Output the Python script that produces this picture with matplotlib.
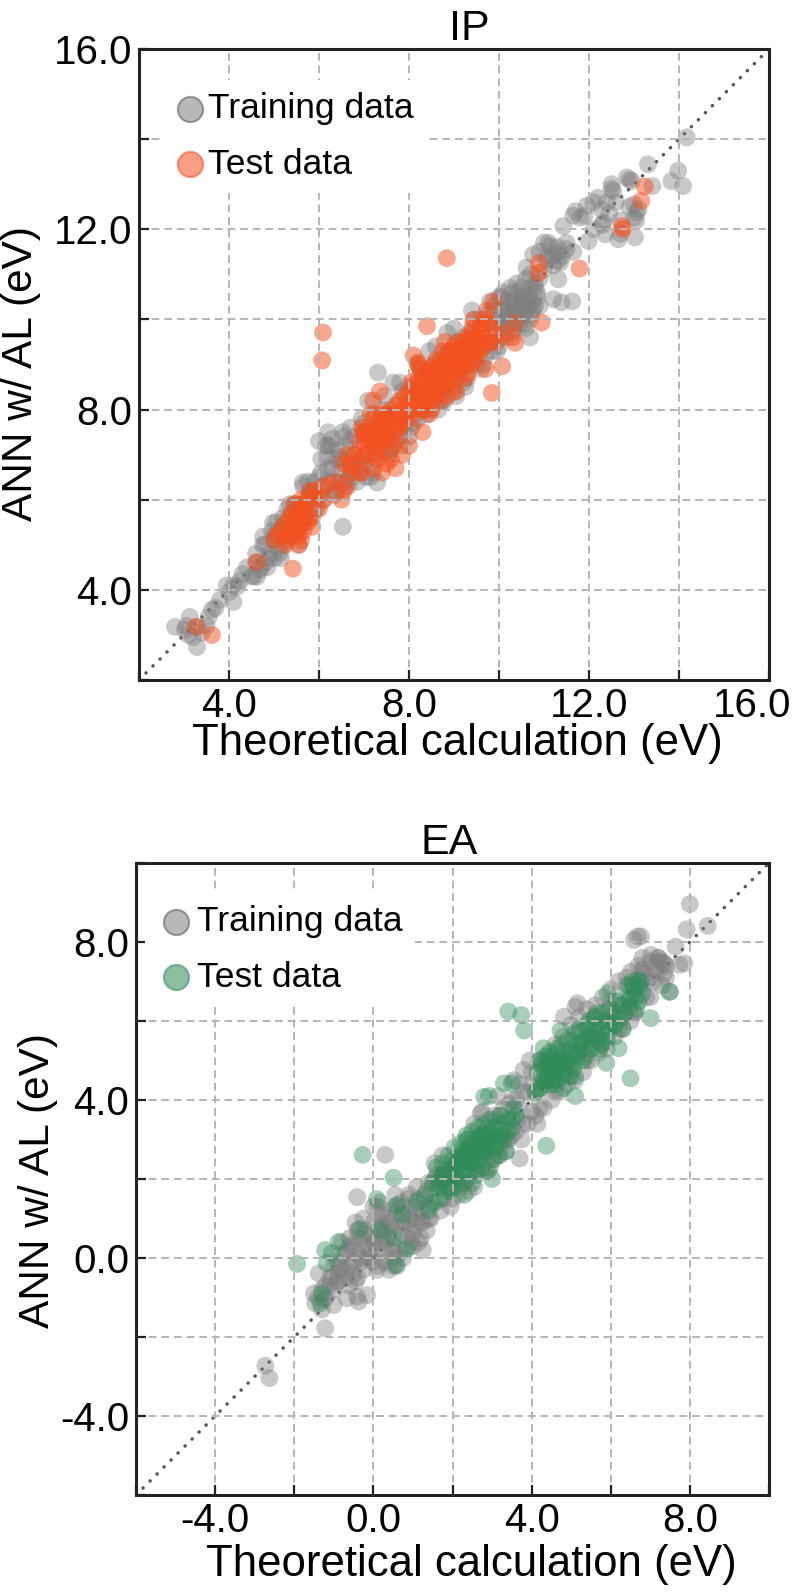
import matplotlib
matplotlib.use('Agg')
import matplotlib.pyplot as plt
from matplotlib.transforms import ScaledTranslation

plt.rcParams['font.family'] = ['Liberation Sans', 'DejaVu Sans']

# IP panel, values
ip_train_x = [2.8, 3.13, 3.02, 3.29, 3.29, 3.1, 3.2, 3.05, 3.4, 3.5, 3.62, 3.55, 3.7, 3.8, 4.1, 4.18, 4.0, 4.1, 3.95, 4.25,
              4.4, 4.3, 4.5, 4.62, 4.6, 4.7, 4.76, 4.8, 4.9, 5.0, 5.13, 4.98, 5.0, 5.1, 5.2, 5.2, 5.3, 5.35, 5.4, 5.5,
              5.6, 5.64, 5.7, 5.8, 5.85, 5.9, 6.0, 6.05, 6.18, 6.2, 6.2, 6.3, 6.35, 6.4, 6.45, 6.53, 6.53, 6.6, 6.7, 6.75,
              6.8, 6.9, 7.0, 7.09, 7.1, 7.2, 7.29, 7.31, 7.3, 7.4, 7.5, 7.55, 7.6, 7.7, 7.8, 7.85, 7.9, 8.0, 8.1, 8.15,
              8.2, 8.3, 8.35, 8.4, 8.5, 8.55, 8.6, 8.7, 8.75, 8.8, 8.9, 9.0, 9.05, 9.1, 9.2, 9.3, 9.35, 9.4, 9.5, 9.6,
              9.7, 9.75, 9.8, 9.9, 9.95, 10.0, 10.05, 10.1, 10.15, 10.2, 10.25, 10.3, 10.35, 10.4, 10.45, 10.5, 10.55, 10.6, 10.65, 10.7,
              10.75, 10.8, 10.85, 10.9, 10.5, 10.2, 10.7, 10.0, 10.3, 10.6, 10.69, 11.21, 11.39, 11.63, 10.61, 10.76, 11.13, 11.28, 11.5, 11.36,
              11.32, 11.06, 11.65, 11.43, 11.65, 11.8, 11.95, 11.99, 12.2, 12.28, 12.32, 12.36, 12.6, 12.65, 13.02, 13.06, 13.0, 12.5, 12.54, 12.84,
              12.95, 13.41, 13.31, 13.98, 13.83, 14.09, 14.17, 12.1, 11.2, 11.0, 12.9, 12.45,
              4.7, 4.8, 4.9, 5.0, 5.1, 5.2, 5.3, 5.4, 5.5, 5.6, 5.7, 5.8, 5.9, 6.0, 6.1, 6.2, 6.3, 6.4, 6.5, 6.6, 6.7, 6.8, 6.9, 7.0,
              4.6, 4.85, 5.05, 5.25, 5.45, 5.65, 5.85, 6.05, 6.25, 6.45, 6.65, 6.85, 7.05, 7.25, 7.45, 7.65, 7.85, 8.05, 8.25, 8.45, 8.65, 8.85, 9.05, 9.25, 9.45, 9.65, 9.85, 10.05,
              9.9, 10.0, 10.1, 10.2, 10.3, 10.4, 10.5, 10.6, 10.7, 10.8, 10.9, 10.05, 10.15, 10.25, 10.35, 10.45, 10.55, 10.65, 10.75, 10.85, 10.1, 10.3, 10.5, 10.7, 10.2, 10.4, 10.6, 10.8, 10.35, 10.55,
              7.0, 7.4, 7.8, 8.2, 8.6, 9.0, 9.4, 9.8, 7.2, 7.6, 8.0, 8.4, 8.8, 9.2, 9.6, 10.0,
              4.55, 4.75, 4.95, 5.15, 5.35, 5.55, 5.75, 5.95, 6.15, 6.35, 6.55, 6.75, 6.95, 7.15, 7.35, 7.55,
              6.0, 6.2, 6.4, 6.6, 6.8, 7.0, 6.3, 6.5, 6.7, 11.1, 11.2, 11.3, 11.4, 11.5,
              11.7, 11.9, 12.1, 12.3, 12.5, 12.7, 12.9, 13.05, 12.7, 12.4, 11.1, 11.3, 13.0, 13.1, 10.9, 11.0]
ip_train_y = [3.18, 3.4, 3.11, 2.73, 3.18, 3.0, 2.95, 3.2, 3.05, 3.2, 3.56, 3.4, 3.6, 3.78, 3.73, 4.07, 3.95, 4.1, 4.1, 4.2,
              4.5, 4.35, 4.3, 4.29, 4.6, 4.45, 5.18, 4.6, 4.8, 4.7, 4.82, 5.49, 5.1, 5.3, 5.0, 5.6, 5.8, 5.2, 5.5, 5.9,
              5.4, 6.38, 5.9, 6.2, 5.6, 6.4, 6.1, 6.6, 6.96, 6.4, 7.5, 6.7, 6.1, 7.1, 6.6, 7.5, 5.4, 6.9, 7.3, 6.5,
              7.0, 6.7, 7.4, 8.2, 7.0, 6.6, 6.38, 8.82, 7.6, 7.0, 7.9, 7.1, 7.3, 8.1, 7.4, 8.4, 7.6, 8.5, 7.7, 8.3,
              7.8, 8.7, 8.0, 8.9, 8.1, 9.0, 8.3, 9.1, 8.2, 8.5, 9.3, 8.4, 9.5, 8.8, 9.6, 8.7, 9.7, 9.1, 9.0, 10.0,
              9.2, 10.1, 9.5, 10.3, 9.3, 10.5, 9.8, 10.6, 9.6, 10.0, 10.7, 9.7, 10.3, 10.8, 9.9, 10.5, 10.1, 10.9, 10.3, 11.0,
              10.4, 10.7, 10.6, 10.3, 10.29, 10.2, 10.0, 10.0, 10.4, 9.8, 9.6, 10.45, 10.38, 10.4, 11.15, 11.44, 11.63, 11.48, 11.56, 11.26,
              10.89, 11.33, 11.5, 12.07, 12.3, 12.26, 12.52, 11.74, 12.7, 12.44, 12.15, 11.89, 12.6, 11.78, 11.82, 12.37, 12.25, 13.0, 12.85, 13.15,
              13.07, 12.96, 13.44, 13.3, 13.07, 12.96, 14.04, 12.0, 11.4, 11.1, 12.5, 12.35,
              4.5, 5.0, 4.7, 5.2, 4.9, 5.4, 5.2, 5.7, 5.3, 5.9, 5.6, 6.1, 5.8, 6.5, 6.0, 6.7, 6.4, 6.9, 6.4, 7.2, 6.7, 7.4, 6.8, 7.5,
              4.8, 4.5, 5.5, 5.5, 5.9, 6.3, 6.2, 6.9, 7.2, 6.95, 6.3, 6.4, 6.5, 7.9, 8.3, 8.6, 7.2, 7.6, 8.9, 9.3, 8.0, 9.7, 8.3, 8.5, 10.0, 9.0, 9.3, 9.6,
              10.2, 9.9, 10.4, 10.1, 10.6, 10.0, 10.4, 10.2, 10.7, 10.3, 10.9, 10.5, 10.0, 10.3, 9.8, 10.6, 9.9, 10.5, 10.2, 10.5, 10.2, 10.4, 10.7, 10.1, 9.85, 10.2, 10.5, 10.8, 10.1, 10.3,
              7.7, 8.0, 8.6, 9.0, 9.4, 9.8, 10.2, 10.4, 6.9, 7.1, 7.4, 7.9, 8.2, 8.6, 8.9, 9.4,
              4.3, 5.0, 5.3, 4.7, 5.9, 5.0, 6.4, 5.8, 7.2, 6.2, 7.4, 6.6, 7.8, 6.5, 7.2, 7.0,
              7.3, 7.2, 6.2, 6.4, 6.8, 6.8, 7.35, 6.9, 7.6, 11.7, 11.2, 11.6, 11.4, 11.7,
              12.4, 12.3, 12.6, 12.1, 12.9, 12.2, 13.1, 12.2, 11.9, 12.6, 11.4, 11.3, 12.55, 12.45, 11.5, 11.7]
ip_test_x = [3.27, 3.62, 4.62, 5.42, 6.07, 6.09, 8.84, 5.0, 5.05, 5.3, 5.35, 5.4, 5.5, 5.55, 5.6, 5.65, 5.7, 5.75, 5.8, 5.5,
             5.6, 5.9, 6.0, 6.1, 5.85, 5.95, 6.1, 6.4, 6.55, 6.6, 6.7, 6.8, 6.95, 7.0, 7.1, 6.9, 7.15, 7.2, 7.3, 7.35,
             7.4, 7.5, 7.55, 7.6, 7.7, 7.25, 7.45, 7.65, 7.75, 7.8, 7.9, 7.95, 8.0, 8.05, 8.1, 8.15, 8.2, 8.25, 8.3, 8.35,
             8.4, 8.45, 8.5, 8.55, 8.6, 8.65, 8.7, 8.75, 8.8, 8.85, 8.9, 8.95, 9.0, 9.05, 9.1, 9.15, 9.2, 9.25, 9.3, 9.35,
             9.4, 9.45, 9.5, 9.55, 9.6, 9.65, 9.7, 9.75, 9.8, 9.85, 9.9, 8.3, 8.5, 8.7, 8.9, 9.1, 9.3, 8.6, 8.8, 9.0,
             9.2, 9.4, 8.2, 8.4, 9.87, 9.73, 9.43, 10.36, 10.36, 10.95, 10.07, 9.84, 10.1, 10.3, 9.95, 7.2, 7.0, 8.0, 8.2, 8.5,
             8.55, 9.0, 9.7, 10.88, 10.87, 11.79, 12.73, 13.16, 13.24, 12.75, 7.6, 7.85, 8.3, 8.1, 7.35,
             7.2, 7.3, 7.4, 7.5, 7.6, 7.7, 7.8, 7.9, 8.0, 8.1, 8.2, 8.3, 8.4, 8.5, 8.6, 8.7, 8.8, 8.9, 9.0, 9.1, 9.2, 9.3, 9.4, 9.5, 9.6, 9.7,
             7.25, 7.35, 7.45, 7.55, 7.65, 7.75, 7.85, 7.95, 8.05, 8.15, 8.25, 8.35, 8.45, 8.55, 8.65, 8.75, 8.85, 8.95, 9.05, 9.15, 9.25, 9.35, 9.45, 9.55, 9.65, 9.75,
             8.0, 8.1, 8.2, 8.3, 8.4, 8.5, 8.6, 8.7, 8.8, 8.9, 9.0, 9.1, 9.2, 9.3, 9.4, 9.5, 8.25, 8.45, 8.65, 8.85, 9.05, 9.25, 9.45, 8.35, 8.55, 8.75,
             5.2, 5.25, 5.3, 5.35, 5.4, 5.45, 5.5, 5.55, 5.6, 5.65, 5.7, 5.75, 5.8, 5.3, 5.5, 5.7, 5.45, 5.6, 5.15, 5.85,
             6.24, 6.5, 6.55, 6.64, 6.7, 6.85, 6.95, 7.05, 7.2, 7.3, 7.4, 7.5, 7.7, 7.1, 7.3, 7.5, 7.7, 6.9, 7.0, 7.2, 7.4, 7.6, 7.8, 7.0, 7.15, 7.35]
ip_test_y = [3.18, 3.0, 4.62, 4.47, 9.09, 9.71, 11.36, 5.1, 5.2, 5.1, 5.6, 5.3, 5.6, 5.0, 5.8, 5.3, 5.9, 5.5, 5.6, 5.25,
             5.1, 6.2, 5.8, 6.3, 5.4, 6.1, 6.0, 6.4, 6.8, 6.3, 6.6, 7.0, 7.6, 7.0, 7.4, 6.6, 7.9, 7.3, 7.7, 7.1,
             7.6, 7.9, 7.4, 8.0, 7.3, 7.2, 7.7, 7.8, 8.1, 7.6, 8.3, 7.8, 8.1, 8.6, 8.0, 8.4, 8.7, 8.2, 8.6, 8.0,
             8.8, 8.3, 8.9, 8.5, 9.1, 8.4, 9.0, 8.7, 9.2, 8.6, 9.3, 8.9, 9.4, 8.8, 9.5, 9.0, 9.4, 9.1, 9.6, 9.2,
             9.7, 9.3, 9.6, 9.2, 9.8, 9.4, 10.0, 9.5, 9.9, 9.5, 9.7, 8.4, 8.7, 8.5, 9.0, 9.2, 9.0, 8.8, 9.5, 9.1,
             9.3, 9.0, 9.0, 9.85, 10.4, 10.2, 9.99, 9.92, 9.48, 9.93, 8.96, 8.37, 9.7, 9.6, 9.5, 8.2, 7.5, 7.2, 9.05, 8.0,
             8.3, 8.5, 8.9, 11.25, 11.03, 11.13, 12.07, 12.63, 12.95, 12.0, 6.9, 7.0, 7.5, 9.2, 8.4,
             7.5, 7.2, 7.8, 7.5, 7.9, 7.5, 8.2, 7.9, 8.4, 8.0, 8.6, 8.2, 8.8, 8.3, 9.0, 8.5, 9.1, 8.8, 9.3, 8.9, 9.5, 9.2, 9.8, 9.3, 9.9, 9.6,
             7.0, 7.6, 7.3, 7.7, 7.2, 7.9, 7.7, 8.1, 7.8, 8.3, 8.1, 8.5, 8.2, 8.7, 8.3, 8.9, 8.6, 9.1, 8.7, 9.3, 9.0, 9.5, 9.1, 9.6, 9.4, 9.9,
             8.2, 8.5, 8.4, 8.0, 8.4, 8.6, 8.7, 8.2, 8.8, 9.0, 9.0, 9.2, 9.1, 8.8, 9.2, 9.6, 8.9, 7.9, 8.9, 8.3, 8.4, 8.7, 9.5, 8.35, 8.55, 9.3,
             5.4, 5.0, 5.5, 5.2, 5.7, 5.4, 5.5, 5.2, 5.7, 5.5, 5.6, 6.0, 6.2, 5.2, 5.3, 5.8, 5.9, 6.0, 5.3, 6.0,
             6.33, 6.0, 6.2, 7.0, 6.75, 6.9, 6.6, 7.0, 6.7, 6.9, 6.6, 6.8, 6.7, 7.3, 7.5, 7.3, 7.6, 7.3, 7.5, 7.8, 7.9, 7.7, 7.8, 7.2, 7.6, 7.4]

# EA panel
ea_train_x = [-2.73, -2.63, -1.47, -1.38, -1.3, -1.22, -1.0, -1.2, -0.9, -0.67, -0.41, -0.37, -0.16, -0.41, 0.3, -1.1, -1.0, -0.9, -0.8, -0.7,
              -0.6, -0.5, -0.4, -0.3, -0.2, -0.1, 0.0, 0.1, 0.2, 0.3, 0.4, 0.5, -0.45, -0.25, 0.05, 0.25, 0.45, 0.65, 0.75, 0.85,
              0.95, 1.05, 1.15, 1.25, 0.55, 0.7, 0.9, 1.1, 1.35, 1.45, 1.5, 1.6, 1.7, 1.8, 1.9, 2.0, 2.1, 2.2, 2.3, 2.4,
              1.55, 1.75, 1.95, 2.15, 2.35, 2.5, 2.6, 2.7, 2.8, 2.9, 3.0, 3.1, 3.2, 3.3, 3.4, 3.5, 3.6, 3.7, 3.7, 2.71,
              2.55, 2.85, 3.05, 3.25, 3.45, 3.65, 3.8, 3.9, 4.0, 4.1, 4.2, 4.3, 3.81, 4.4, 4.5, 4.6, 4.7, 4.8, 4.9, 4.82,
              5.0, 5.1, 5.16, 5.11, 5.2, 5.3, 5.4, 5.5, 5.6, 5.7, 5.8, 5.9, 6.0, 6.1, 6.2, 6.3, 6.4, 6.5, 6.51, 6.6,
              6.59, 6.68, 6.76, 6.7, 6.8, 6.9, 7.0, 7.02, 7.1, 7.2, 7.3, 7.35, 7.4, 7.5, 7.64, 7.73, 7.86, 7.92, 8.0, 8.45,
              4.45, 4.95, 5.45, 5.95, 6.35, 6.85, 4.0, 3.5, 1.25, 7.2,
              -1.4, -1.3, -1.2, -1.1, -1.0, -0.9, -0.8, -0.7, -0.6, -0.5, -0.4, -0.3, -0.2, -0.1, 0.0, 0.1, 0.2, 0.3, 0.4, 0.5, 0.6, 0.7, 0.8, 0.9, 1.0, 1.1, 1.2, 1.3, 1.4, 1.5,
              -0.9, -0.7, -0.5, -0.3, -0.1, 0.1, 0.3, 0.5, -0.6, -0.4, -0.2, 0.0, 0.2, 0.4, 0.6, 0.8, 1.0, 1.2, 1.4, 0.1, 0.3, 0.5, 0.7, 0.9, 1.1,
              1.6, 1.8, 2.0, 2.2, 2.4, 2.6, 2.8, 3.0, 3.2, 3.4, 3.6, 3.8, 4.0, 4.2, 4.4, 4.6, 4.8, 5.0, 5.2, 5.4, 5.6, 5.8, 6.0, 6.2, 6.4, 6.6, 6.8, 7.0, 7.2, 7.4,
              3.7, 3.9, 4.1, 4.3, 4.5, 4.7, 4.9, 5.1, 5.3, 5.5, 5.7, 5.9, 6.1, 6.3, 6.5, 6.7, 6.9, 7.1, 7.3, 7.35, 7.2, 7.0, 6.8,
              -1.5, -1.25, -1.05, -0.85, -0.65, -0.45, -0.25, -0.05, 0.15, 0.35, 0.55, 0.75, 0.95, 1.15, 1.35,
              1.55, 1.75, 1.95, 2.15, 2.35, 2.55, 2.75, 2.95, 3.15, 3.35, 3.55, 3.75, 3.95, 4.15,
              1.0, 0.8, 0.6, 0.4, 1.2, 1.4, -0.8, -0.6, -0.4, 0.0, 0.2]
ea_train_y = [-2.73, -3.04, -1.15, -0.39, -1.3, -1.78, -1.19, -0.7, -0.4, -1.02, -0.98, -1.1, -0.94, 1.54, 2.61, -0.5, -0.2, -0.6, 0.1, -0.3,
              0.3, -0.1, 0.5, 0.0, 0.7, 0.2, 0.9, -0.2, 1.1, 0.1, 0.5, 0.2, 0.9, 1.0, 0.4, 0.6, 0.8, 0.1, 1.3, 0.5,
              1.0, 0.8, 1.5, 0.9, 1.3, 0.9, 1.5, 1.2, 1.7, 1.0, 1.4, 1.9, 1.2, 1.8, 2.2, 1.5, 2.4, 1.9, 2.6, 1.7,
              2.0, 2.1, 1.8, 2.5, 2.0, 2.9, 2.2, 3.1, 2.4, 3.3, 2.5, 3.5, 2.6, 3.8, 3.0, 4.0, 3.2, 2.52, 4.4, 3.66,
              3.4, 2.2, 3.6, 2.9, 3.9, 3.5, 4.76, 3.4, 4.7, 3.6, 5.0, 3.8, 4.2, 5.0, 4.0, 5.4, 4.2, 5.6, 4.4, 6.11,
              5.9, 4.5, 6.45, 6.36, 6.1, 4.7, 6.3, 5.0, 6.4, 5.2, 6.6, 5.3, 6.8, 5.6, 7.0, 5.8, 7.1, 6.0, 7.25, 6.2,
              8.05, 8.14, 8.14, 7.4, 7.6, 6.6, 7.5, 7.67, 7.0, 7.6, 6.9, 7.46, 7.4, 6.74, 7.88, 7.42, 7.46, 8.32, 8.96, 8.41,
              4.8, 5.0, 5.5, 6.3, 6.2, 7.2, 3.7, 3.1, 0.2, 7.3,
              -1.0, -0.8, -1.0, -0.7, -0.8, -0.6, -0.3, -0.5, -0.2, -0.4, 0.1, -0.1, 0.3, 0.0, 0.4, 0.2, 0.5, 0.4, 0.9, 0.3, 0.8, 0.6, 1.1, 0.7, 1.3, 1.0, 0.9, 1.5, 1.3, 1.8,
              -0.1, 0.1, 0.3, 0.5, 0.1, -0.3, -0.1, -0.2, 0.5, 0.7, 0.6, -0.1, 0.9, 1.2, 1.2, 0.9, 0.6, 1.2, 1.9, 1.3, 0.7, 0.0, 1.4, 1.6, 1.8,
              2.1, 1.5, 2.3, 1.8, 2.7, 2.2, 3.1, 2.6, 3.6, 3.0, 4.0, 3.4, 4.4, 3.8, 4.8, 4.2, 5.2, 4.6, 5.7, 5.0, 6.1, 5.4, 6.5, 5.8, 6.9, 6.2, 7.3, 6.6, 7.6, 7.1,
              3.8, 4.2, 4.2, 4.5, 4.5, 4.9, 4.9, 5.2, 5.3, 5.6, 5.6, 6.0, 6.1, 6.4, 6.6, 6.9, 7.0, 7.3, 7.5, 7.2, 7.5, 7.1, 7.3,
              -0.9, -1.05, -0.5, -0.2, 0.2, -0.6, -0.3, 0.6, 1.4, 1.0, 1.6, 0.0, 0.4, 0.4, 0.7,
              2.4, 2.6, 1.3, 1.6, 3.0, 1.8, 3.7, 2.3, 4.1, 2.7, 4.5, 3.0, 5.0, 3.4,
              0.3, 0.2, -0.2, -0.3, 0.5, 1.0, 0.4, -0.7, -0.5, 1.3, 0.8]
ea_test_x = [-1.93, -1.34, -1.3, -1.22, -1.18, -1.05, -0.88, -0.35, -0.27, 0.09, 0.17, 0.51, 0.51, 0.57, 0.6, 0.73, 0.85, 1.1, 1.3, 1.4,
             1.5, 1.55, 1.6, 1.65, 1.7, 1.75, 1.8, 1.85, 1.9, 1.95, 2.0, 2.05, 2.1, 2.15, 2.2, 2.25, 2.3, 2.35, 2.4, 2.45,
             2.5, 2.55, 2.6, 2.65, 2.7, 2.75, 2.8, 2.85, 2.9, 2.95, 3.0, 3.05, 3.1, 3.15, 3.2, 3.3, 3.4, 2.2, 2.4, 2.6,
             2.8, 3.0, 2.3, 2.5, 2.7, 3.5, 2.8, 2.92, 3.3, 3.5, 3.41, 3.74, 3.81, 4.3, 4.73, 4.37, 5.1, 4.1, 4.15, 4.2,
             4.25, 4.3, 4.35, 4.4, 4.45, 4.5, 4.55, 4.6, 4.65, 4.7, 4.75, 4.8, 4.85, 4.9, 4.95, 5.0, 5.05, 5.1, 4.4, 4.5,
             4.6, 4.7, 4.2, 5.15, 5.2, 5.3, 5.4, 5.5, 5.6, 5.7, 5.8, 5.9, 5.45, 5.65, 5.85, 5.25, 6.0, 6.1, 5.92, 6.2,
             5.89, 6.5, 6.46, 6.6, 6.68, 6.72, 6.8, 6.3, 6.55, 7.01, 7.48,
             1.7, 1.8, 1.9, 2.0, 2.1, 2.2, 2.3, 2.4, 2.5, 2.6, 2.7, 2.8, 2.9, 3.0, 3.1, 3.2, 3.3, 3.4, 3.5, 3.6,
             1.75, 1.95, 2.15, 2.35, 2.55, 2.75, 2.95, 3.15, 3.35, 3.55, 2.05, 2.25, 2.45, 2.65, 2.85, 3.05, 3.25, 2.2, 2.4, 2.6, 2.8, 3.0,
             4.2, 4.3, 4.4, 4.5, 4.6, 4.7, 4.8, 4.9, 5.0, 5.1, 5.2, 4.35, 4.55, 4.75, 4.95, 5.15, 4.45, 4.65, 4.85, 5.05,
             5.3, 5.4, 5.5, 5.6, 5.7, 5.8, 5.9, 6.0, 6.1, 6.2, 6.3, 6.4, 6.5, 6.6, 6.7, 5.35, 5.55, 5.75, 5.95, 6.15, 6.35, 6.55, 6.75, 5.45, 5.65, 6.25, 6.45, 6.65]
ea_test_y = [-0.15, -1.15, -0.9, 0.2, -0.13, 0.12, 0.41, 0.73, 2.61, 1.49, 0.71, 2.03, 0.5, -0.18, 1.34, 1.09, 0.24, 1.42, 1.6, 1.2,
             1.9, 1.4, 2.3, 1.8, 1.5, 2.4, 2.0, 1.7, 2.6, 2.1, 1.8, 2.8, 2.3, 2.0, 2.9, 2.4, 1.9, 3.1, 2.6, 2.2,
             3.2, 2.7, 2.1, 3.3, 2.9, 2.3, 3.4, 2.8, 2.2, 3.5, 3.0, 2.5, 3.3, 2.6, 3.6, 3.0, 3.2, 2.5, 2.8, 3.0,
             2.7, 2.0, 1.6, 1.9, 3.1, 3.5, 4.08, 4.1, 4.42, 4.42, 6.24, 6.15, 5.76, 5.31, 5.76, 2.84, 4.1, 4.2, 4.7, 4.3,
             4.9, 4.5, 5.1, 4.6, 5.2, 4.4, 5.0, 4.7, 5.3, 4.8, 5.4, 4.3, 5.0, 5.5, 4.6, 5.3, 4.8, 5.7, 4.9, 4.7,
             4.5, 5.0, 5.0, 5.2, 5.8, 5.0, 5.9, 5.4, 6.1, 5.3, 6.2, 5.6, 5.6, 5.7, 5.9, 5.4, 6.3, 5.9, 6.7, 5.31,
             4.94, 4.55, 6.52, 6.6, 7.03, 6.87, 6.7, 6.1, 6.9, 6.07, 6.74,
             1.9, 2.2, 2.1, 2.5, 2.0, 2.7, 2.2, 3.0, 2.4, 2.9, 2.5, 3.1, 2.7, 3.3, 2.8, 3.1, 3.1, 3.5, 3.3, 3.6,
             2.1, 1.7, 2.4, 2.7, 2.5, 2.8, 3.1, 3.0, 2.7, 3.8, 2.3, 2.6, 2.4, 2.7, 2.9, 2.9, 3.4, 2.2, 2.5, 2.5, 3.0, 3.1,
             4.3, 4.8, 4.5, 4.9, 4.4, 5.0, 4.6, 5.0, 4.9, 4.6, 5.4, 4.4, 4.7, 4.7, 5.2, 5.1, 5.1, 5.2, 4.9, 5.5,
             5.5, 5.8, 5.3, 5.9, 5.6, 6.0, 5.5, 6.1, 5.9, 6.2, 5.8, 6.6, 6.4, 6.8, 6.5, 5.1, 5.7, 5.4, 5.8, 6.5, 6.2, 7.0, 7.0, 6.0, 6.2, 6.4, 6.9, 6.3]

ticks_major_ip = [4, 8, 12, 16]
ticks_major_ea = [-4, 0, 4, 8]
ticks_minor_ip = [2, 4, 6, 8, 10, 12, 14, 16]
ticks_minor_ea = [-6, -4, -2, 0, 2, 4, 6, 8, 10]

W, H = 800, 1592


def panel(box, lim, major, minor, tr, te, title, color, alpha, leg_anchor, title_x, text_pad):
    l, t, r, b = box
    ax = fig.add_axes([l / W, 1 - b / H, (r - l) / W, (b - t) / H])
    ax.plot(lim, lim, color='#555555', lw=2.5, linestyle=(0, (0.05, 2.8)),
            dash_capstyle='round', zorder=0.5)
    ax.scatter(tr[0], tr[1], s=165, color='#7f7f7f', alpha=0.42, edgecolors='none', zorder=1)
    ax.scatter(te[0], te[1], s=165, color=color, alpha=alpha, edgecolors='none', zorder=1.2)
    ax.set_xlim(lim)
    ax.set_ylim(lim)
    ax.set_xticks(minor)
    ax.set_yticks(minor)
    labs = ['%.1f' % v if v in major else '' for v in minor]
    ax.set_xticklabels(labs)
    ax.set_yticklabels(labs)
    ax.tick_params(direction='in', length=7, width=1.6, labelsize=29, pad=5, color='#222222')
    ax.set_axisbelow(False)
    ax.grid(True, color='#b5b5b5', linestyle='--', lw=1.4, dashes=(4, 2.5))
    for s in ax.spines.values():
        s.set_linewidth(2.2)
        s.set_color('#222222')
        s.set_zorder(4)
    ax.set_title(title, fontsize=31, pad=5, x=title_x)

    # legend markers, own handles so the edge colour can differ
    h1 = ax.scatter([], [], s=330, color='#7f7f7f', alpha=0.55, edgecolors='#555555', linewidths=1.5, label='Training data')
    h2 = ax.scatter([], [], s=330, facecolor=color, alpha=0.55, edgecolors=color, linewidths=1.5, label='Test data')
    leg = ax.legend(handles=[h1, h2], loc='upper left', bbox_to_anchor=leg_anchor, fontsize=25.5,
                    frameon=True, framealpha=1, edgecolor='none', facecolor='white', scatterpoints=1,
                    handlelength=1, handletextpad=text_pad, labelspacing=0.63, borderpad=0.35, borderaxespad=0,
                    fancybox=False)
    leg.set_zorder(3)
    return ax


fig = plt.figure(figsize=(W / 100, H / 100), dpi=100)

ax1 = panel((139, 49, 769, 680), (2, 16), ticks_major_ip, ticks_minor_ip,
            (ip_train_x, ip_train_y), (ip_test_x, ip_test_y), 'IP',
            '#f4511e', 0.5, (0.033, 0.951), 0.524, 0.0)
ax1.set_xlabel('Theoretical calculation (eV)', fontsize=31.5)
ax1.set_ylabel('ANN w/ AL (eV)', fontsize=30.5)
ax1.yaxis.set_label_coords(-0.155, 0.485)
ax1.xaxis.set_label_coords(0.505, -0.068)

# the last x label sits left of its tick in the reference
lbl = ax1.get_xticklabels()[-1]
lbl.set_transform(lbl.get_transform() + ScaledTranslation(-17 / 100, 0, fig.dpi_scale_trans))

ax2 = panel((136, 863, 769, 1495), (-6, 10), ticks_major_ea, ticks_minor_ea,
            (ea_train_x, ea_train_y), (ea_test_x, ea_test_y), 'EA',
            '#2e8b57', 0.42, (0.015, 0.9525), 0.494, 0.1)
ax2.set_xlabel('Theoretical calculation (eV)', fontsize=31.5)
ax2.set_ylabel('ANN w/ AL (eV)', fontsize=30.5)
ax2.yaxis.set_label_coords(-0.123, 0.498)
ax2.xaxis.set_label_coords(0.53, -0.078)

fig.savefig('out.png', dpi=100)
